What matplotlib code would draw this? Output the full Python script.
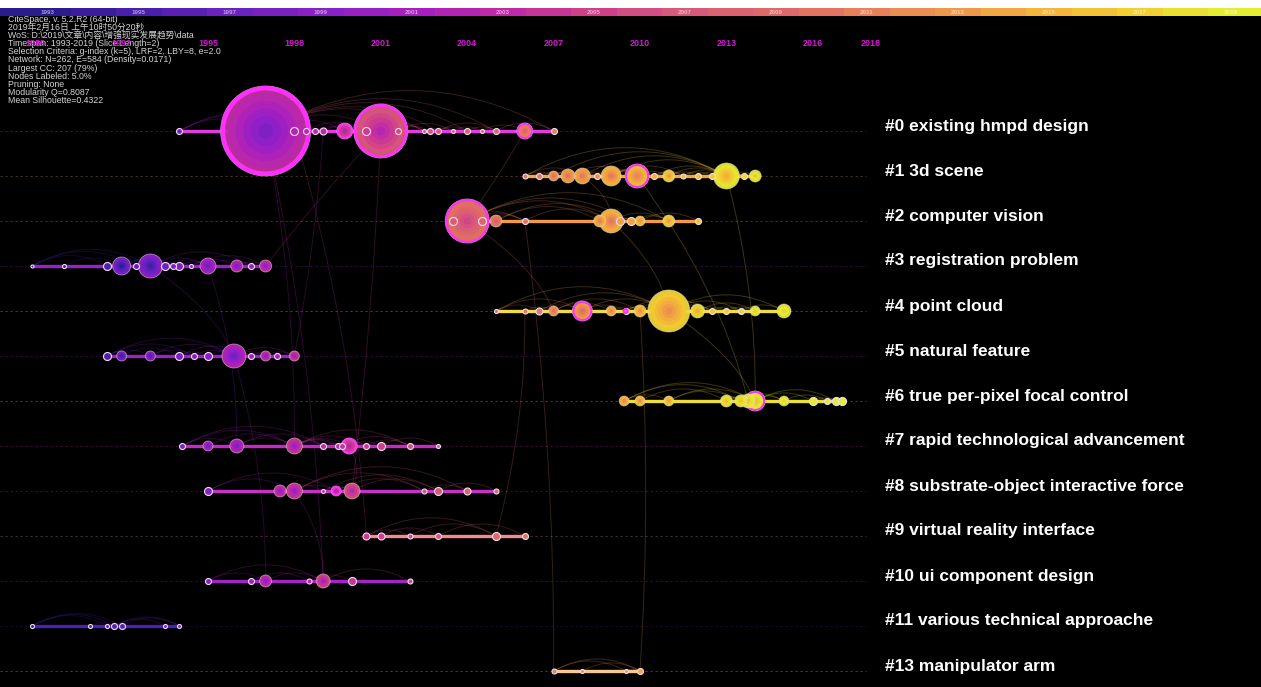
import numpy as np
import matplotlib
matplotlib.use('Agg')
import matplotlib.pyplot as plt
from matplotlib.colors import LinearSegmentedColormap, to_rgb
from matplotlib.path import Path
from matplotlib.patches import PathPatch, Rectangle

# ---------------- data ----------------
bar_years = list(range(1992, 2021))
bar_label_years = list(range(1993, 2020, 2))
axis_label_years = [1989, 1992, 1995, 1998, 2001, 2004, 2007, 2010, 2013, 2016, 2018]

info_lines = [
    "CiteSpace, v. 5.2.R2 (64-bit)",
    "2019年2月16日 上午10时50分20秒",
    "WoS: D:\\2019\\文章\\内容\\增强现实发展趋势\\data",
    "Timespan: 1993-2019 (Slice Length=2)",
    "Selection Criteria: g-index (k=5), LRF=2, LBY=8, e=2.0",
    "Network: N=262, E=584 (Density=0.0171)",
    "Largest CC: 207 (79%)",
    "Nodes Labeled: 5.0%",
    "Pruning: None",
    "Modularity Q=0.8087",
    "Mean Silhouette=0.4322",
]

cluster_names = [
    "#0 existing hmpd design",
    "#1 3d scene",
    "#2 computer vision",
    "#3 registration problem",
    "#4 point cloud",
    "#5 natural feature",
    "#6 true per-pixel focal control",
    "#7 rapid technological advancement",
    "#8 substrate-object interactive force",
    "#9 virtual reality interface",
    "#10 ui component design",
    "#11 various technical approache",
    "#13 manipulator arm",
]

c0_years = [1994.0, 1997.0, 1998.0, 1998.4, 1998.7, 1999.0, 1999.75, 2000.5, 2001.0, 2001.6,
            2002.5, 2002.7, 2003.0, 2003.5, 2004.0, 2004.5, 2005.0, 2006.0, 2007.0]
c0_sizes = [3, 45, 4, 3, 3, 3.5, 8, 4, 27, 3, 2, 3, 3, 2, 3, 2, 3, 8, 3]
c0_central = [0, 1, 0, 0, 0, 0, 1, 0, 1, 0, 0, 0, 0, 0, 0, 0, 0, 1, 0]

c1_years = [2006.0, 2006.5, 2007.0, 2007.5, 2008.0, 2008.5, 2009.0, 2009.9, 2010.5, 2011.0,
            2011.5, 2012.0, 2012.5, 2013.0, 2013.6, 2014.0]
c1_sizes = [2.5, 3, 5, 7, 8, 3, 10, 12, 3, 6, 2.5, 3, 3, 13, 3, 6]
c1_central = [0, 0, 0, 0, 0, 0, 0, 1, 0, 0, 0, 0, 0, 0, 0, 0]

c2_years = [2003.5, 2004.0, 2004.5, 2005.0, 2006.0, 2008.6, 2009.0, 2009.3, 2009.7, 2010.0, 2011.0, 2012.0]
c2_sizes = [4, 22, 4, 6, 3, 6, 12, 4, 4, 5, 6, 3]
c2_central = [0, 1, 0, 0, 0, 0, 0, 0, 0, 0, 0, 0]

c3_years = [1988.9, 1990.0, 1991.5, 1992.0, 1992.5, 1993.0, 1993.5, 1993.8, 1994.0, 1994.4,
            1995.0, 1996.0, 1996.5, 1997.0]
c3_sizes = [1.5, 2, 4, 9, 3, 12, 4, 3, 4, 2, 8, 6, 3, 6]
c3_central = [0] * 14

c4_years = [2005.0, 2006.0, 2006.5, 2007.0, 2008.0, 2009.0, 2009.5, 2010.0, 2011.0, 2012.0,
            2012.5, 2013.0, 2013.5, 2014.0, 2015.0]
c4_sizes = [2, 2.5, 3.5, 5, 10, 5, 3, 6, 21, 7, 3, 3, 3, 5, 7]
c4_central = [0, 0, 0, 0, 1, 0, 1, 0, 0, 0, 0, 0, 0, 0, 0]

c5_years = [1991.5, 1992.0, 1993.0, 1994.0, 1994.5, 1995.0, 1995.9, 1996.5, 1997.0, 1997.4, 1998.0]
c5_sizes = [4, 5, 5, 4, 3, 4, 12, 3, 5, 3, 5]
c5_central = [0] * 11

c6_years = [2009.45, 2010.0, 2011.0, 2013.0, 2013.5, 2013.75, 2014.0, 2015.0, 2016.0, 2016.5, 2016.8, 2017.0]
c6_sizes = [5, 5, 5, 6, 6, 7, 10, 5, 4, 3, 4, 4]
c6_central = [0, 0, 0, 0, 0, 0, 1, 0, 0, 0, 0, 0]

c7_years = [1994.1, 1995.0, 1996.0, 1998.0, 1999.0, 1999.5, 1999.65, 1999.9, 2000.5, 2001.0, 2002.0, 2003.0]
c7_sizes = [3, 5, 7, 8, 3, 3, 3, 8, 3, 4, 3, 2]
c7_central = [0, 0, 0, 0, 0, 0, 0, 1, 0, 0, 0, 0]

c8_years = [1995.0, 1997.5, 1998.0, 1999.0, 1999.45, 2000.0, 2002.5, 2003.0, 2004.0, 2005.0]
c8_sizes = [4, 6, 8, 2, 5, 8, 2.5, 4, 3.5, 2.5]
c8_central = [0, 0, 0, 0, 1, 0, 0, 0, 0, 0]

c9_years = [2000.5, 2001.0, 2002.0, 2003.0, 2005.0, 2006.0]
c9_sizes = [3.5, 3.5, 2.5, 3, 4, 3]
c9_central = [0] * 6

c10_years = [1995.0, 1996.5, 1997.0, 1998.5, 1999.0, 2000.0, 2002.0]
c10_sizes = [3, 3, 6, 2.5, 7, 4, 2.5]
c10_central = [0] * 7

c11_years = [1988.9, 1990.9, 1991.5, 1991.75, 1992.0, 1993.5, 1994.0]
c11_sizes = [2, 2, 2, 3, 3, 2, 2]
c11_central = [0] * 7

c13_years = [2007.0, 2008.0, 2009.5, 2010.0]
c13_sizes = [2.5, 2, 2, 3]
c13_central = [0] * 4

cluster_years = [c0_years, c1_years, c2_years, c3_years, c4_years, c5_years, c6_years,
                 c7_years, c8_years, c9_years, c10_years, c11_years, c13_years]
cluster_sizes = [c0_sizes, c1_sizes, c2_sizes, c3_sizes, c4_sizes, c5_sizes, c6_sizes,
                 c7_sizes, c8_sizes, c9_sizes, c10_sizes, c11_sizes, c13_sizes]
cluster_central = [c0_central, c1_central, c2_central, c3_central, c4_central, c5_central,
                   c6_central, c7_central, c8_central, c9_central, c10_central, c11_central,
                   c13_central]

# inter-cluster links: (row_a, year_a, row_b, year_b)
cross_links = [
    (0, 1997.0, 7, 1998.0), (0, 1998.0, 9, 2000.5), (0, 2001.0, 8, 2000.0),
    (0, 2001.0, 3, 1997.0), (0, 1999.0, 5, 1998.0), (0, 2006.0, 2, 2004.0),
    (2, 2004.0, 4, 2007.0), (2, 2009.0, 4, 2011.0), (1, 2013.0, 6, 2014.0),
    (4, 2011.0, 6, 2014.0), (1, 2009.9, 6, 2013.75), (4, 2010.0, 12, 2010.0),
    (2, 2006.0, 12, 2007.0), (3, 1993.0, 5, 1995.9), (3, 1995.0, 7, 1996.0),
    (5, 1995.9, 10, 1997.0), (7, 1999.9, 8, 2000.0), (8, 1998.0, 10, 1999.0),
    (9, 2005.0, 4, 2006.0), (1, 2008.0, 2, 2009.0), (0, 1997.0, 10, 1999.0),
]

# ---------------- style ----------------
W, H = 1261, 687
PX0_YEAR, PX_PER_YEAR = 1995.0, 28.8   # year 1995 sits at pixel 208
ROW0_PX, ROW_STEP = 131.0, 45.0

def year_at_px(px):
    return PX0_YEAR + (px - 208.0) / PX_PER_YEAR

def row_at_px(py):
    return (py - ROW0_PX) / ROW_STEP

line_colors = ['#e43ae4', '#eeaa3a', '#f09a4a', '#9a22cc', '#eedd44', '#a020c8', '#eedd33',
               '#c828c8', '#c830c8', '#f48a8a', '#a424c8', '#4a22b4', '#f4c890']

stops = ['#2b1b8f', '#4a1fae', '#6a22c0', '#8a20c8', '#a81fc0', '#c02aa8', '#d0408a',
         '#d85a7a', '#e06868', '#e8805a', '#f0984a', '#f5b43a', '#f2cf30', '#e4ee30']
cmap = LinearSegmentedColormap.from_list('cs', stops)

def ycol(y):
    return cmap(np.clip((y - 1993.0) / 26.0, 0, 1))

def pts(r):
    return (2 * r * 0.72) ** 2

fig = plt.figure(figsize=(W / 100, H / 100), dpi=100)
fig.patch.set_facecolor('black')
ax = fig.add_axes([0, 0, 1, 1])
ax.set_facecolor('black')
ax.set_xlim(year_at_px(0), year_at_px(W))
ax.set_ylim(row_at_px(H), row_at_px(0))
ax.axis('off')

x_dash_end = year_at_px(866)

def arc(xa, xb, row, color, alpha, lw):
    h = min(2.0, 0.18 * abs(xb - xa))
    p = Path([(xa, row), ((xa + xb) / 2, row - h), (xb, row)],
             [Path.MOVETO, Path.CURVE3, Path.CURVE3])
    ax.add_patch(PathPatch(p, fill=False, edgecolor=color, alpha=alpha, lw=lw, zorder=2))

# cross-cluster curves
for ra, ya, rb, yb in cross_links:
    ctrl = (ya * 0.35 + yb * 0.65 + 0.4, (ra + rb) / 2)
    p = Path([(ya, ra), ctrl, (yb, rb)], [Path.MOVETO, Path.CURVE3, Path.CURVE3])
    ax.add_patch(PathPatch(p, fill=False, edgecolor=ycol(max(ya, yb) + 3), alpha=0.25,
                           lw=0.7, zorder=1.5))

for row, (ys, rs, cs) in enumerate(zip(cluster_years, cluster_sizes, cluster_central)):
    lc = line_colors[row]
    ax.plot([year_at_px(0), x_dash_end], [row, row], ls=(0, (2, 2.5)), lw=0.8,
            color=lc, alpha=0.3, zorder=1)
    n = len(ys)
    hub = int(np.argmax(rs))
    pairs = set()
    for i in range(n):
        if i != hub and i % 2 == 0:
            pairs.add((min(i, hub), max(i, hub)))
        if i + 2 < n:
            pairs.add((i, i + 2))
        if i + 4 < n and i % 3 == 0:
            pairs.add((i, i + 4))
    for i, j in sorted(pairs):
        arc(ys[i], ys[j], row, ycol(max(ys[i], ys[j]) + 3), 0.25, 0.7)
    ax.plot([min(ys), max(ys)], [row, row], color=lc, lw=2.4, solid_capstyle='butt', zorder=3)

    order = sorted(range(n), key=lambda k: -rs[k])
    for k in order:
        y, r, c = ys[k], rs[k], cs[k]
        if r >= 9:
            nr = 6
        elif r >= 5:
            nr = 3
        else:
            nr = 1
        if nr == 1:
            ax.scatter([y], [row], s=pts(r), color=[ycol(y + 4)], edgecolors='#f2dcf2',
                       linewidths=0.8, zorder=4)
        else:
            for q in range(nr):
                frac = 1 - q / nr
                ax.scatter([y], [row], s=pts(r * frac), color=[ycol(y + 0.3 + 6.2 * frac)],
                           edgecolors='none', alpha=0.95, zorder=4)
            ax.scatter([y], [row], s=pts(r), facecolors='none', edgecolors='#f0d0f0',
                       linewidths=0.6, alpha=0.6, zorder=4)
        if c:
            t = max(2.0, r * 0.1)
            ax.scatter([y], [row], s=pts(r - t / 2), facecolors='none', edgecolors='#ff30ff',
                       linewidths=t * 0.72, zorder=4)

    ax.text(year_at_px(885), row - 5 / ROW_STEP, cluster_names[row], color='white',
            fontsize=12.5, fontweight='bold', family='Liberation Sans', ha='left', va='center',
            zorder=6)

# info text (top-left)
for k, line in enumerate(info_lines):
    ax.text(8 / W, 1 - (19.5 + 8.1 * k) / H, line, transform=fig.transFigure,
            fontsize=6.3, color='#d4d4d4', va='center', ha='left',
            family=['Liberation Sans', 'Noto Sans CJK SC'], zorder=6)

# magenta timeline year labels
for yv in axis_label_years:
    ax.text(yv, row_at_px(44), str(yv), color='#d416d4', fontsize=6.5, fontweight='bold',
            ha='center', va='center', family='Liberation Sans', zorder=7)

# top white strip and year colour bar
fig.add_artist(Rectangle((0, 1 - 8 / H), 1, 8 / H, transform=fig.transFigure,
                         facecolor='white', edgecolor='none'))
bax = fig.add_axes([0, 1 - 16 / H, 1, 8 / H])
bax.set_xlim(1993 - 48 / 45.5, 1993 + (W - 48) / 45.5)
bax.set_ylim(0, 1)
bax.axis('off')
bax.bar(bar_years, 1, width=1.0, bottom=0, color=[ycol(y) for y in bar_years], align='center')
for yv in bar_label_years:
    c = np.array(to_rgb(ycol(yv)))
    c = c + (1 - c) * 0.55
    bax.text(yv, 0.5, str(yv), color=c, fontsize=4.5, fontweight='bold', ha='center',
             va='center', family='Liberation Sans')

fig.savefig('out.png', dpi=100, facecolor='black')
